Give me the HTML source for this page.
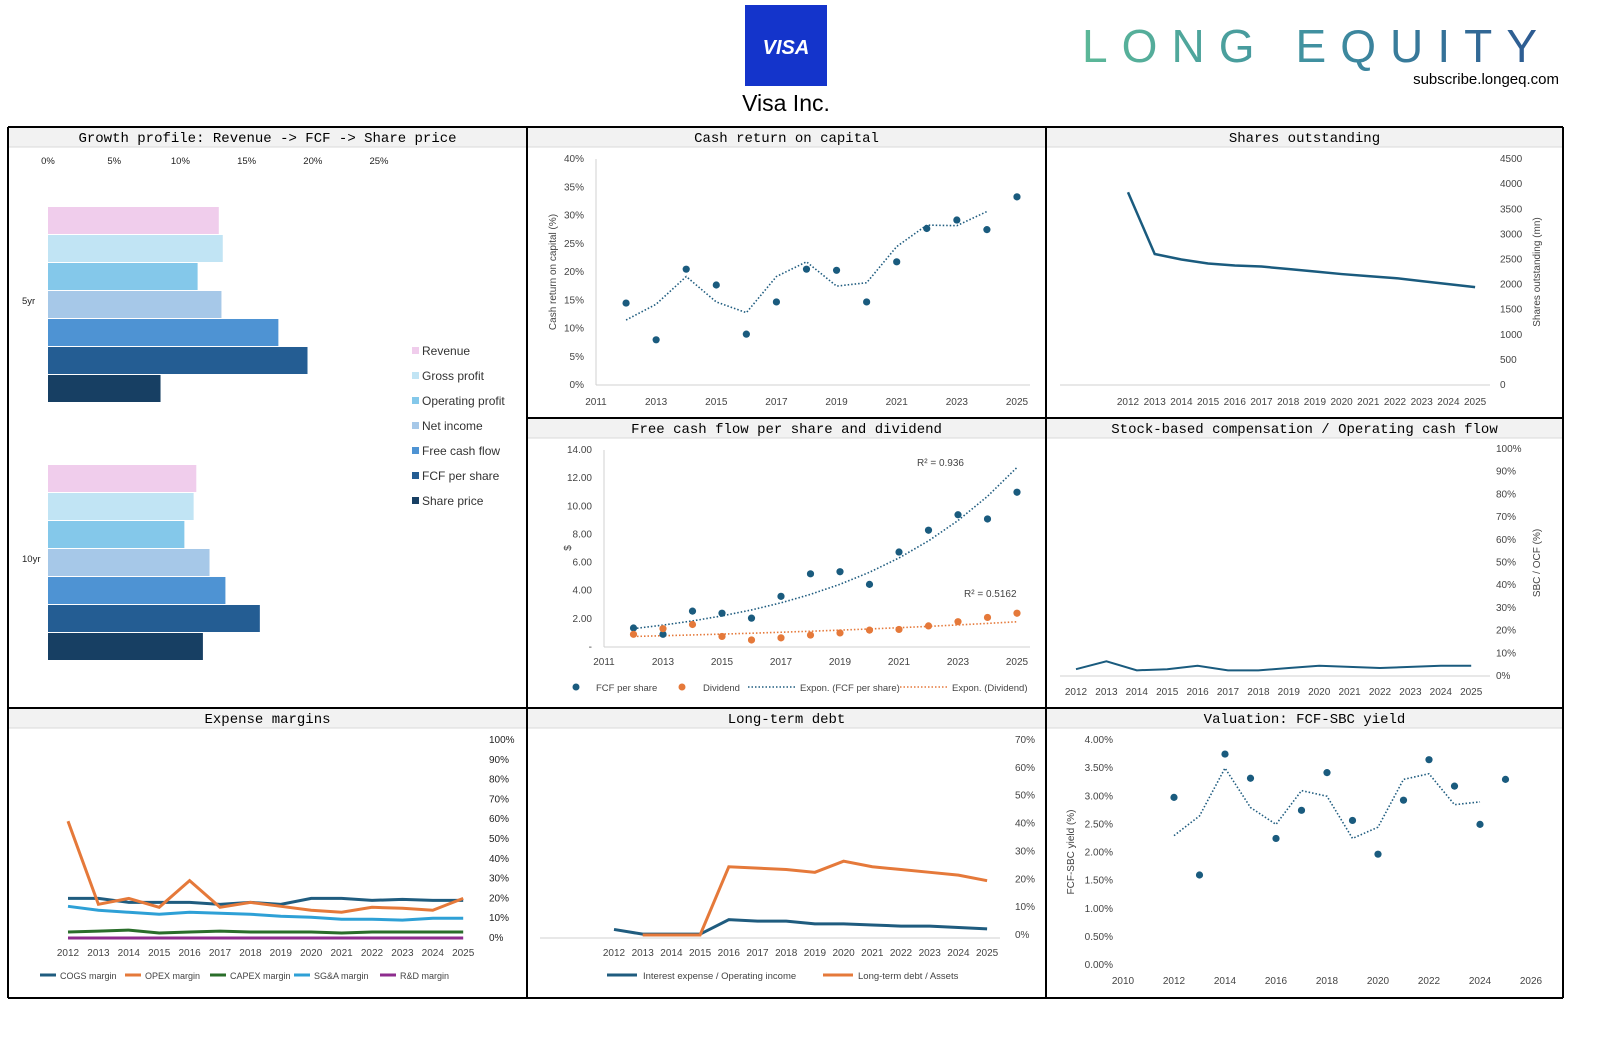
<!DOCTYPE html>
<html><head><meta charset="utf-8"><style>
body{margin:0;background:#fff;width:1619px;height:1038px;overflow:hidden}
svg{display:block;font-family:"Liberation Sans",sans-serif}
</style></head><body>
<svg id="s" width="1619" height="1038" xmlns="http://www.w3.org/2000/svg">
<defs><linearGradient id="lg" x1="0" x2="1"><stop offset="0" stop-color="#5cb898"/><stop offset="0.5" stop-color="#3f8fa0"/><stop offset="1" stop-color="#2b5590"/></linearGradient></defs>
<g>
<rect x="745" y="5" width="82" height="81" fill="#1434cb"/>
<text x="786" y="54" text-anchor="middle" fill="#fff" font-size="20" font-weight="bold" font-style="italic">VISA</text>
<text x="786" y="111" text-anchor="middle" font-size="23">Visa Inc.</text>
<text x="1082" y="62" font-size="46" letter-spacing="23" fill="url(#lg)" textLength="478">LONG EQUITY</text>
<text x="1559" y="84" text-anchor="end" font-size="15">subscribe.longeq.com</text>
</g>
<g id="g"></g>
</svg>
<script>
// ---- data ----
const growthSeries=["Revenue","Gross profit","Operating profit","Net income","Free cash flow","FCF per share","Share price"];
const growth5=[12.9,13.2,11.3,13.1,17.4,19.6,8.5];
const growth10=[11.2,11.0,10.3,12.2,13.4,16.0,11.7];
const growthTicks=[0,5,10,15,20,25];
const years=[2012,2013,2014,2015,2016,2017,2018,2019,2020,2021,2022,2023,2024,2025];
const croc=[14.5,8,20.5,17.7,9,14.7,20.5,20.3,14.7,21.8,27.7,29.2,27.5,33.3];
const crocTrend=[11.5,14.3,19.2,14.7,12.8,19.2,21.8,17.5,18.1,24.5,28.3,28.2,30.7];
const shares=[3840,2610,2500,2420,2380,2360,2310,2260,2210,2170,2130,2070,2010,1950];
const fcfps=[1.35,0.9,2.55,2.4,2.05,3.6,5.2,5.35,4.45,6.75,8.3,9.4,9.1,11.0];
const dividend=[0.9,1.3,1.6,0.75,0.5,0.65,0.85,1.0,1.2,1.25,1.5,1.8,2.1,2.4];
const sbcOcf=[3,6.5,2.5,3,4.5,2.5,2.5,3.5,4.5,4,3.5,4,4.5,4.5];
const cogsM=[20,20,18,18,18,17,18,17,20,20,19,19.5,19,19];
const opexM=[59,17,20,15.5,29,15.5,18,16,14,13,15.5,15,14,20];
const capexM=[3,3.5,4,2.5,3,3.5,3,3,3,2.5,3,3,3,3];
const sgaM=[16,14,13,12,13,12.5,12,11,10.5,9.5,9.5,9,10,10];
const rndM=[0,0,0,0,0,0,0,0,0,0,0,0,0,0];
const intOi=[2,0.3,0.3,0.3,5.5,5,5,4,4,3.6,3.2,3.2,2.7,2.2];
const ltdAssets=[null,0,0,0,24.5,24,23.5,22.5,26.5,24.5,23.5,22.5,21.5,19.5];
const yieldV=[2.98,1.6,3.75,3.32,2.25,2.75,3.42,2.57,1.97,2.93,3.65,3.18,2.5,3.3];
const yieldTrend=[2.3,2.65,3.5,2.8,2.5,3.1,3.0,2.25,2.45,3.3,3.4,2.85,2.9];

const NS="http://www.w3.org/2000/svg",G=document.getElementById('g');
function el(t,a,txt,p){const e=document.createElementNS(NS,t);for(const k in a)e.setAttribute(k,a[k]);if(txt!=null)e.textContent=txt;(p||G).appendChild(e);return e;}
function tx(x,y,s,o,name){const e=el('text',Object.assign({x:x,y:y,'font-size':10,fill:'#444'},o||{}),s);

return e;}
function lin(fx,fy,xs,vs,o,name){let d='';xs.forEach((x,i)=>{if(vs[i]==null)return;d+=(d?'L':'M')+fx(x)+','+fy(vs[i]);});
const e=el('path',Object.assign({d:d,fill:'none'},o));

return e;}
function dots(fx,fy,xs,vs,c,name){vs.forEach((v,i)=>{const e=el('circle',{cx:fx(xs[i]),cy:fy(v),r:3.6,fill:c});

});}

// panels
const X=[8,527,1046,1563],Y=[127,418,708,998];
const titles=[["Growth profile: Revenue -> FCF -> Share price","Cash return on capital","Shares outstanding"],
["","Free cash flow per share and dividend","Stock-based compensation / Operating cash flow"],
["Expense margins","Long-term debt","Valuation: FCF-SBC yield"]];
for(let r=0;r<3;r++)for(let c=0;c<3;c++){
 if(r==1&&c==0)continue;
 const b=el('rect',{x:X[c]+1,y:Y[r]+1,width:X[c+1]-X[c]-2,height:19,fill:'#f2f2f2'});
 
 
 el('line',{x1:X[c],x2:X[c+1],y1:Y[r]+20,y2:Y[r]+20,stroke:'#d9d9d9'});
 tx((X[c]+X[c+1])/2,Y[r]+15,titles[r][c],{'text-anchor':'middle','font-size':14,fill:'#000','font-family':'Liberation Mono, monospace'},'panel-title');
}
[[8,127,1563,127],[8,998,1563,998],[527,418,1563,418],[8,708,1563,708],[8,127,8,998],[527,127,527,998],[1046,127,1046,998],[1563,127,1563,998]].forEach(l=>{
 const e=el('line',{x1:l[0],y1:l[1],x2:l[2],y2:l[3],stroke:'#000','stroke-width':2});
 
 });

// ---- Panel 1 growth ----
const gColors=['#f0cdec','#c1e4f4','#84c8ea','#a6c8e8','#4e93d3','#245d93','#173f63'];
const gx=v=>48+v*13.24;
growthTicks.forEach(t=>tx(gx(t),164,t+'%',{'text-anchor':'middle','font-size':9.5,fill:'#222'},'growth-x-tick'));
[[growth5,207,'5yr',304],[growth10,465,'10yr',562]].forEach(([vals,y0,lab,ly])=>{
 tx(22,ly,lab,{'font-size':9.5,fill:'#222'},'growth-group-label');
 vals.forEach((v,i)=>{const e=el('rect',{x:gx(0),y:y0+i*28,width:gx(v)-gx(0),height:27,fill:gColors[i]});
 
 });
});
growthSeries.forEach((s,i)=>{const e=el('rect',{x:412,y:347+i*25,width:7,height:7,fill:gColors[i]});
 
 
 tx(422,355+i*25,s,{'font-size':12,fill:'#333'},'legend-entry');});

// ---- Panel 2 cash return ----
{const fx=y=>596+(y-2011)*30.07,fy=v=>385-v*5.65;
 el('line',{x1:596,x2:1030,y1:385,y2:385,stroke:'#d0d0d0'});el('line',{x1:596,x2:596,y1:159,y2:385,stroke:'#d0d0d0'});
 [0,5,10,15,20,25,30,35,40].forEach(t=>tx(584,fy(t)+3,t+'%',{'text-anchor':'end'},'croc-y-tick'));
 for(let y=2011;y<=2025;y+=2)tx(fx(y),405,y,{'text-anchor':'middle'},'croc-x-tick');
 tx(0,0,'Cash return on capital (%)',{transform:'translate(556,272) rotate(-90)','text-anchor':'middle'},'croc-y-title');
 lin(fx,fy,years,crocTrend,{stroke:'#1f5c7f','stroke-width':1.6,'stroke-dasharray':'1.5,2'},'croc-trend');
 dots(fx,fy,years,croc,'#1a5b7e','croc-point');}

// ---- Panel 3 shares ----
{const fx=y=>1128+(y-2012)*26.7,fy=v=>385-v*0.0502;
 el('line',{x1:1060,x2:1490,y1:385,y2:385,stroke:'#d0d0d0'});
 [0,500,1000,1500,2000,2500,3000,3500,4000,4500].forEach(t=>tx(1500,fy(t)+3,t,{},'shares-y-tick'));
 years.forEach(y=>tx(fx(y),405,y,{'text-anchor':'middle'},'shares-x-tick'));
 tx(0,0,'Shares outstanding (mn)',{transform:'translate(1540,272) rotate(-90)','text-anchor':'middle'},'shares-y-title');
 lin(fx,fy,years,shares,{stroke:'#1a5b7e','stroke-width':2.5},'shares-line');}

// ---- Panel 4 FCF per share ----
function expFit(v){const n=v.length;let sx=0,sy=0,sxx=0,sxy=0;v.forEach((y,i)=>{const l=Math.log(y);sx+=i;sy+=l;sxx+=i*i;sxy+=i*l;});
 const b=(n*sxy-sx*sy)/(n*sxx-sx*sx),a=(sy-b*sx)/n;return v.map((_,i)=>Math.exp(a+b*i));}
{const fx=y=>604+(y-2011)*29.5,fy=v=>647-v*14.07;
 el('line',{x1:604,x2:1030,y1:647,y2:647,stroke:'#d0d0d0'});el('line',{x1:604,x2:604,y1:450,y2:647,stroke:'#d0d0d0'});
 [0,2,4,6,8,10,12,14].forEach(t=>tx(592,fy(t)+3,t?t.toFixed(2):'-',{'text-anchor':'end'},'fcf-y-tick'));
 for(let y=2011;y<=2025;y+=2)tx(fx(y),665,y,{'text-anchor':'middle'},'fcf-x-tick');
 tx(0,0,'$',{transform:'translate(571,548) rotate(-90)','text-anchor':'middle'},'fcf-y-title');
 lin(fx,fy,years,expFit(fcfps),{stroke:'#1f5c7f','stroke-width':1.6,'stroke-dasharray':'1.5,2'},'fcf-trend');
 lin(fx,fy,years,expFit(dividend),{stroke:'#e5793a','stroke-width':1.6,'stroke-dasharray':'1.5,2'},'dividend-trend');
 dots(fx,fy,years,fcfps,'#1a5b7e','fcf-point');dots(fx,fy,years,dividend,'#e5793a','dividend-point');
 tx(917,466,'R² = 0.936',{},'fcf-r2');tx(964,597,'R² = 0.5162',{},'dividend-r2');
 el('circle',{cx:576,cy:687,r:3.5,fill:'#1a5b7e'});tx(596,691,'FCF per share',{'font-size':9.5},'legend-entry');
 el('circle',{cx:682,cy:687,r:3.5,fill:'#e5793a'});tx(703,691,'Dividend',{'font-size':9.5},'legend-entry');
 el('line',{x1:748,x2:796,y1:687,y2:687,stroke:'#1f5c7f','stroke-width':1.6,'stroke-dasharray':'1.5,2'});tx(800,691,'Expon. (FCF per share)',{'font-size':9.5},'legend-entry');
 el('line',{x1:900,x2:948,y1:687,y2:687,stroke:'#e5793a','stroke-width':1.6,'stroke-dasharray':'1.5,2'});tx(952,691,'Expon. (Dividend)',{'font-size':9.5},'legend-entry');}

// ---- Panel 5 SBC ----
{const fx=y=>1076+(y-2012)*30.4,fy=v=>676-v*2.27;
 el('line',{x1:1060,x2:1490,y1:676,y2:676,stroke:'#d0d0d0'});
 for(let t=0;t<=100;t+=10)tx(1496,fy(t)+3,t+'%',{},'sbc-y-tick');
 years.forEach(y=>tx(fx(y),695,y,{'text-anchor':'middle'},'sbc-x-tick'));
 tx(0,0,'SBC / OCF (%)',{transform:'translate(1540,563) rotate(-90)','text-anchor':'middle'},'sbc-y-title');
 lin(fx,fy,years,sbcOcf,{stroke:'#1a5b7e','stroke-width':2},'sbc-line');}

// ---- Panel 6 expense margins ----
{const fx=y=>68+(y-2012)*30.4,fy=v=>938-v*1.98;
 for(let t=0;t<=100;t+=10)tx(489,fy(t)+3,t+'%',{fill:'#222'},'margin-y-tick');
 years.forEach(y=>tx(fx(y),956,y,{'text-anchor':'middle'},'margin-x-tick'));
 const ser=[[cogsM,'#1f5c7f','COGS margin','cogs-line'],[opexM,'#e5793a','OPEX margin','opex-line'],[capexM,'#2a6e2a','CAPEX margin','capex-line'],[sgaM,'#2ea0d6','SG&A margin','sga-line'],[rndM,'#8e2c8e','R&D margin','rnd-line']];
 [0,3,2,4,1].forEach(i=>lin(fx,fy,years,ser[i][0],{stroke:ser[i][1],'stroke-width':3},ser[i][3]));
 const lx=[40,125,210,294,380];
 ser.forEach((s,i)=>{el('line',{x1:lx[i],x2:lx[i]+16,y1:975,y2:975,stroke:s[1],'stroke-width':3});tx(lx[i]+20,979,s[2],{'font-size':9},'legend-entry');});}

// ---- Panel 7 long-term debt ----
{const fx=y=>614+(y-2012)*28.7,fy=v=>935-v*2.786;
 el('line',{x1:540,x2:1000,y1:938,y2:938,stroke:'#d0d0d0'});
 for(let t=0;t<=70;t+=10)tx(1015,fy(t)+3,t+'%',{},'debt-y-tick');
 years.forEach(y=>tx(fx(y),956,y,{'text-anchor':'middle'},'debt-x-tick'));
 lin(fx,fy,years,intOi,{stroke:'#1f5c7f','stroke-width':3},'interest-line');
 lin(fx,fy,years,ltdAssets,{stroke:'#e5793a','stroke-width':3},'ltd-line');
 el('line',{x1:607,x2:637,y1:975,y2:975,stroke:'#1f5c7f','stroke-width':3});tx(643,979,'Interest expense / Operating income',{'font-size':9.5},'legend-entry');
 el('line',{x1:823,x2:853,y1:975,y2:975,stroke:'#e5793a','stroke-width':3});tx(858,979,'Long-term debt / Assets',{'font-size':9.5},'legend-entry');}

// ---- Panel 8 valuation ----
{const fx=y=>1123+(y-2010)*25.5,fy=v=>965-v*56.25;
 for(let t=0;t<=4;t+=0.5)tx(1113,fy(t)+3,t.toFixed(2)+'%',{'text-anchor':'end'},'yield-y-tick');
 for(let y=2010;y<=2026;y+=2)tx(fx(y),984,y,{'text-anchor':'middle'},'yield-x-tick');
 tx(0,0,'FCF-SBC yield (%)',{transform:'translate(1074,852) rotate(-90)','text-anchor':'middle'},'yield-y-title');
 lin(fx,fy,years,yieldTrend,{stroke:'#1f5c7f','stroke-width':1.6,'stroke-dasharray':'1.5,2'},'yield-trend');
 dots(fx,fy,years,yieldV,'#1a5b7e','yield-point');}
</script>
</body></html>
